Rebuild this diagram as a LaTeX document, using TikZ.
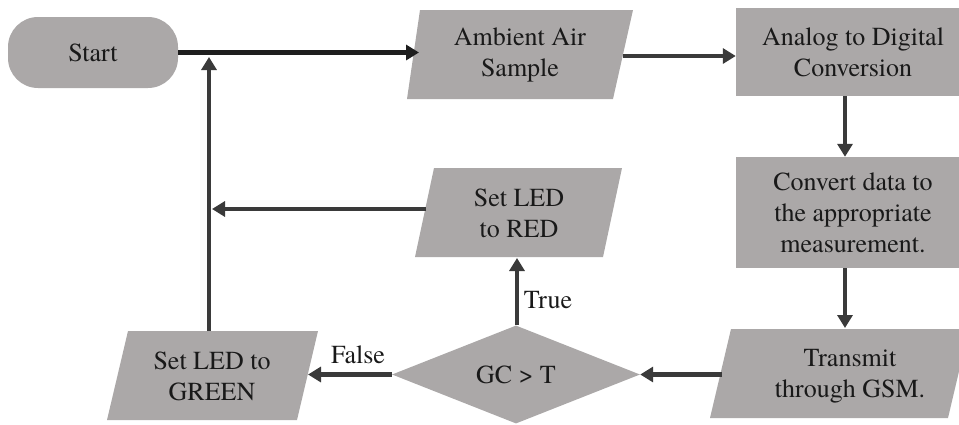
\documentclass[tikz,border=0pt]{standalone}
\usepackage{fontspec}
\IfFontExistsTF{TeX Gyre Termes}{\newfontfamily\lserif{TeX Gyre Termes}}{\newfontfamily\lserif{Liberation Serif}}
\usetikzlibrary{shapes.geometric,arrows.meta}
\definecolor{boxgray}{RGB}{171,168,168}
\definecolor{linegray}{RGB}{58,58,58}
\definecolor{linedark}{RGB}{30,30,30}
\definecolor{txtcol}{RGB}{25,25,25}
\begin{document}
\begin{tikzpicture}[x=1pt,y=-1pt,
  lbl/.style={font=\lserif\fontsize{26}{31}\selectfont, text=txtcol, align=center, inner sep=0pt},
  boxfill/.style={fill=boxgray, draw=none},
  conn/.style={draw=linegray, line width=4.5pt, -{Triangle[length=13pt,width=15pt]}},
]
\useasboundingbox (0,0) rectangle (959,424);
\clip (0,0) rectangle (959,424);

% ---- shapes ----
\node[boxfill, lbl, rounded corners=30pt, minimum width=170pt, minimum height=71pt] (start) at (93,52.5) {Start};

\fill[boxgray] (420,10) -- (633,10) -- (613,99) -- (407,99) -- cycle;
\node[lbl] (amb) at (520,55) {Ambient Air\\Sample};

\node[boxfill, lbl, minimum width=234pt, minimum height=88pt] (adc) at (853,52) {Analog to Digital\\Conversion};

\node[boxfill, lbl, minimum width=234pt, minimum height=111pt] (conv) at (853,212.5) {Convert data to\\the appropriate\\measurement.};

\fill[boxgray] (731,329) -- (969,329) -- (948,418) -- (710,418) -- cycle;
\node[lbl] (gsm) at (850,376) {Transmit\\through GSM.};

\node[boxfill, lbl, diamond, minimum width=248pt, minimum height=98pt] (dec) at (516,374.5) {GC > T};

\fill[boxgray] (434,168) -- (622,168) -- (603,257) -- (415,257) -- cycle;
\node[lbl] (red) at (519,213) {Set LED\\to RED};

\fill[boxgray] (128,331) -- (318,331) -- (297,420) -- (107,420) -- cycle;
\node[lbl] (green) at (212,376) {Set LED to\\GREEN};

% ---- connector end points on slanted edges ----
\coordinate (amb-w) at (419,52.5);
\coordinate (amb-e) at (623,56);
\coordinate (gsm-w) at (722,374.5);
\coordinate (red-w) at (426,209);
\coordinate (red-s) at (517,258);
\coordinate (grn-e) at (308,374.5);
\coordinate (grn-n) at (209,331);
\coordinate (j1) at (209,57);
\coordinate (j2) at (212,209);

% ---- connectors ----
\draw[conn, draw=linedark] (start.east) -- (amb-w);
\draw[conn] (amb-e) -- (amb-e -| adc.west);
\draw[conn] (adc.south -| 845,0) -- (conv.north -| 845,0);
\draw[conn] (conv.south -| 845,0) -- (845,328);
\draw[conn] (gsm-w) -- (dec.east);
\draw[conn] (dec.west) -- (grn-e);
\draw[conn] (dec.north -| red-s) -- (red-s);
\draw[conn] (red-w) -- (j2);
\draw[conn] (grn-n) -- (j1);

% ---- labels ----
\node[lbl] (falselbl) at (358,355) {False};
\node[lbl] (truelbl) at (548,300) {True};
\end{tikzpicture}
\end{document}
